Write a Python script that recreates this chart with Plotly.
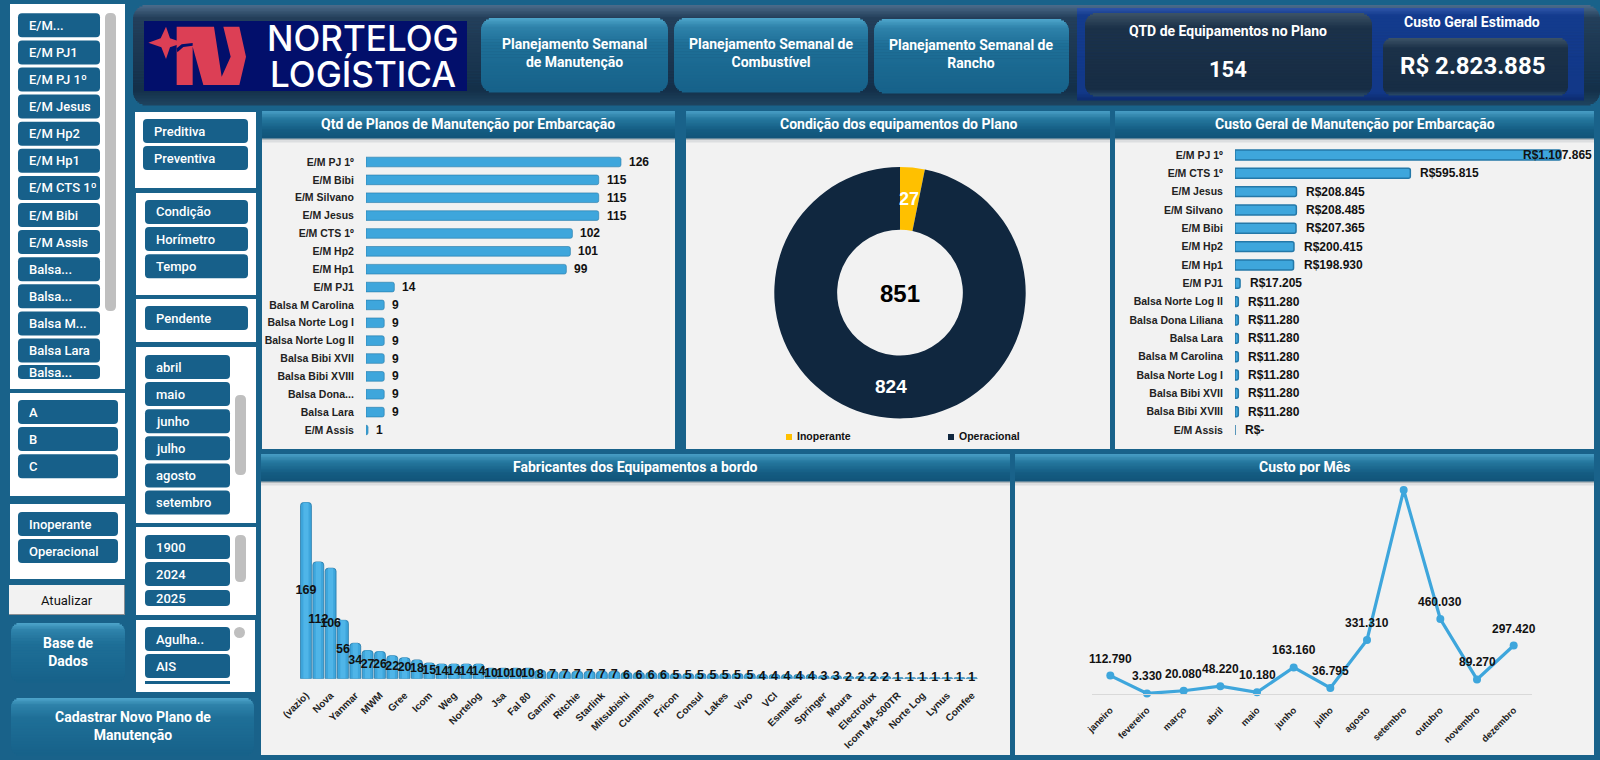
import math
import plotly.graph_objects as go

# ---- dados dos graficos ----
planos_cat = ["E/M PJ 1º", "E/M Bibi", "E/M Silvano", "E/M Jesus", "E/M CTS 1º", "E/M Hp2", "E/M Hp1", "E/M PJ1",
              "Balsa M Carolina", "Balsa Norte Log I", "Balsa Norte Log II", "Balsa Bibi XVII", "Balsa Bibi XVIII",
              "Balsa Dona...", "Balsa Lara", "E/M Assis"]
planos_val = [126, 115, 115, 115, 102, 101, 99, 14, 9, 9, 9, 9, 9, 9, 9, 1]

custo_cat = ["E/M PJ 1º", "E/M CTS 1º", "E/M Jesus", "E/M Silvano", "E/M Bibi", "E/M Hp2", "E/M Hp1", "E/M PJ1",
             "Balsa Norte Log II", "Balsa Dona Liliana", "Balsa Lara", "Balsa M Carolina", "Balsa Norte Log I",
             "Balsa Bibi XVII", "Balsa Bibi XVIII", "E/M Assis"]
custo_val = [1107865, 595815, 208845, 208485, 207365, 200415, 198930, 17205,
             11280, 11280, 11280, 11280, 11280, 11280, 11280, 0]
custo_txt = ["R$1.107.865", "R$595.815", "R$208.845", "R$208.485", "R$207.365", "R$200.415", "R$198.930", "R$17.205",
             "R$11.280", "R$11.280", "R$11.280", "R$11.280", "R$11.280", "R$11.280", "R$11.280", "R$-"]

condicao_cat = ["Inoperante", "Operacional"]
condicao_val = [27, 824]

fabricantes_val = [169, 112, 106, 56, 34, 27, 26, 22, 20, 18, 15, 14, 14, 14, 14, 10, 10, 10, 10, 8,
                   7, 7, 7, 7, 7, 7, 6, 6, 6, 6, 5, 5, 5, 5, 5, 5, 5, 4, 4, 4, 4, 4, 3, 3,
                   2, 2, 2, 2, 1, 1, 1, 1, 1, 1, 1]
fabricantes_tick = ["(vazio)", "Nova", "Yanmar", "MWM", "Gree", "Icom", "Weg", "Nortelog", "Jsa", "Fal 80", "Garmin",
                    "Ritchie", "Starlink", "Mitsubishi", "Cummins", "Fricon", "Consul", "Lakes", "Vivo", "VCI",
                    "Esmaltec", "Springer", "Moura", "Electrolux", "Icom MA-500TR", "Norte Log", "Lynus", "Comfee"]

meses = ["janeiro", "fevereiro", "março", "abril", "maio", "junho", "julho", "agosto", "setembro", "outubro",
         "novembro", "dezembro"]
mes_val = [112790, 3330, 20080, 48220, 10180, 163160, 36795, 331310, 1251300, 460030, 89270, 297420]
mes_txt = ["112.790", "3.330", "20.080", "48.220", "10.180", "163.160", "36.795", "331.310", "", "460.030",
           "89.270", "297.420"]

# segmentacoes
seg_embarcacao = ["E/M...", "E/M PJ1", "E/M PJ 1º", "E/M Jesus", "E/M Hp2", "E/M Hp1", "E/M CTS 1º", "E/M Bibi",
                  "E/M Assis", "Balsa...", "Balsa...", "Balsa M...", "Balsa Lara"]
seg_abc = ["A", "B", "C"]
seg_estado = ["Inoperante", "Operacional"]
seg_tipo = ["Preditiva", "Preventiva"]
seg_gatilho = ["Condição", "Horímetro", "Tempo"]
seg_mes = ["abril", "maio", "junho", "julho", "agosto", "setembro"]
seg_ano = ["1900", "2024"]
seg_equip = ["Agulha..", "AIS"]

W, H = 1600, 760
FUNDO = "#19628a"
BOTAO = "#17608a"
PAINEL = "#f2f2f2"
AZUL = "#3ea6dc"
AZUL_CLARO = "#4fb5e8"
AZUL_ESC = "#2478a8"
FONTE = "Roboto"
FONTE_GRAF = "Liberation Sans"

STOPS_VIDRO = [(0, "#4fa6cc"), (0.12, "#2f83ab"), (0.35, "#1f7098"), (1, "#17628a")]
STOPS_TITULO = [(0, "#4a9fc6"), (0.3, "#25789f"), (0.7, "#155d83"), (1, "#12557a")]
STOPS_HEADER = [(0, "#4d6d8c"), (0.13, "#243f5a"), (0.85, "#14304a"), (1, "#1f4560")]
STOPS_ESCURO = [(0, "#3d5468"), (0.18, "#1c3249"), (0.92, "#172d45"), (1, "#2a4a68")]
STOPS_AZUL = [(0, "#2f55a8"), (0.08, "#143c8e"), (0.92, "#123888"), (1, "#0d2c70")]
STOPS_SOMBRA = [(0, "#9aa5ab"), (1, PAINEL)]

shapes = []
annots = []


def hex2rgb(c):
    return [int(c[i:i + 2], 16) for i in (1, 3, 5)]


def cor_em(stops, t):
    for (t0, c0), (t1, c1) in zip(stops, stops[1:]):
        if t <= t1:
            f = (t - t0) / (t1 - t0)
            a, b = hex2rgb(c0), hex2rgb(c1)
            return "rgb(%d,%d,%d)" % tuple(a[i] + (b[i] - a[i]) * f for i in range(3))
    return stops[-1][1]


def px(x):
    return x / W


def py(y):
    return 1 - y / H


def rect(x0, y0, x1, y1, cor):
    shapes.append(dict(type="rect", xref="paper", yref="paper", x0=px(x0), x1=px(x1), y0=py(y1), y1=py(y0),
                       fillcolor=cor, line_width=0, layer="below"))


def caixa(x0, y0, x1, y1, r, stops):
    # caixa arredondada com degrade vertical feito em faixas
    n = max(1, int((y1 - y0) / 1.5))
    h = (y1 - y0) / n
    for i in range(n):
        ya, yb = y0 + i * h, y0 + (i + 1) * h
        d = min((ya + yb) / 2 - y0, y1 - (ya + yb) / 2)
        ins = r - math.sqrt(max(r * r - (r - d) ** 2, 0)) if d < r else 0
        rect(x0 + ins, ya, x1 - ins, yb + 0.6, cor_em(stops, (i + 0.5) / n))


def arred(x0, y0, x1, y1, r, cor):
    p = (f"M{px(x0 + r)},{py(y0)} L{px(x1 - r)},{py(y0)} Q{px(x1)},{py(y0)} {px(x1)},{py(y0 + r)} "
         f"L{px(x1)},{py(y1 - r)} Q{px(x1)},{py(y1)} {px(x1 - r)},{py(y1)} L{px(x0 + r)},{py(y1)} "
         f"Q{px(x0)},{py(y1)} {px(x0)},{py(y1 - r)} L{px(x0)},{py(y0 + r)} Q{px(x0)},{py(y0)} {px(x0 + r)},{py(y0)} Z")
    shapes.append(dict(type="path", xref="paper", yref="paper", path=p, fillcolor=cor, line_width=0, layer="below"))


def poligono(pts, cor, ox=140, oy=15, esc=3):
    p = " L".join(f"{px(ox + a / esc)},{py(oy + b / esc)}" for a, b in pts)
    shapes.append(dict(type="path", xref="paper", yref="paper", path="M" + p + " Z", fillcolor=cor, line_width=0,
                       layer="below"))


def txt(x, y, s, size=13, cor="white", peso="normal", anchor="center", fam=FONTE):
    annots.append(dict(xref="paper", yref="paper", x=px(x), y=py(y), text=s, showarrow=False, xanchor=anchor,
                       yanchor="middle", font=dict(family=fam, size=size, color=cor, weight=peso), align="center"))


def segmentador(x0, x1, itens, topo, passo=27.1, alt=24):
    for i, s in enumerate(itens):
        y = topo + i * passo
        arred(x0, y, x1, y + alt, 4, BOTAO)
        txt(x0 + 9, y + alt / 2, s, 13, peso=500, anchor="left")


def barra_rolagem(x0, x1, y0, y1):
    arred(x0, y0, x1, y1, 5, "#bfbfbf")


def titulo(x0, x1, y0, s):
    caixa(x0, y0 + 27, x1, y0 + 31, 0, STOPS_SOMBRA)
    caixa(x0, y0, x1, y0 + 27, 1, STOPS_TITULO)
    txt((x0 + x1) / 2, y0 + 13, s, 14, peso="bold")


# ---- painel lateral ----
rect(10, 4, 125, 389, "white")
segmentador(18, 100, seg_embarcacao, 13.3)
arred(18, 365, 100, 379, 4, BOTAO)
txt(27, 372, "Balsa...", 13, peso=500, anchor="left")
barra_rolagem(105, 116, 13, 311)

rect(10, 393, 125, 496, "white")
segmentador(18, 118, seg_abc, 400)
rect(10, 504, 125, 579, "white")
segmentador(18, 118, seg_estado, 512)
rect(9, 585, 125, 615, "#8a8f94")
rect(9, 585, 124, 614, PAINEL)
txt(67, 600, "Atualizar", 13, cor="#111111")
caixa(11, 623, 125, 682, 9, STOPS_VIDRO)
txt(68, 652, "Base de<br>Dados", 14, peso="bold")
caixa(11, 698, 254, 755, 9, STOPS_VIDRO)
txt(133, 726, "Cadastrar Novo Plano de<br>Manutenção", 14, peso="bold")

rect(135, 112, 256, 188, "white")
segmentador(143, 248, seg_tipo, 119)
rect(136, 193, 256, 295, "white")
segmentador(145, 248, seg_gatilho, 200)
rect(136, 299, 256, 342, "white")
segmentador(145, 248, ["Pendente"], 306)
rect(136, 347, 256, 523, "white")
segmentador(145, 230, seg_mes, 355)
barra_rolagem(235, 246, 395, 475)
rect(136, 527, 256, 615, "white")
segmentador(145, 230, seg_ano, 535)
arred(145, 590, 230, 606, 4, BOTAO)
txt(154, 598, "2025", 13, peso=500, anchor="left")
barra_rolagem(235, 246, 535, 582)
rect(136, 620, 255, 692, "white")
segmentador(145, 230, seg_equip, 627)
rect(145, 681, 230, 684, BOTAO)
shapes.append(dict(type="circle", xref="paper", yref="paper", x0=px(234), x1=px(245), y0=py(638), y1=py(627),
                   fillcolor="#bfbfbf", line_width=0, layer="below"))

# ---- cabecalho ----
caixa(133, 5, W, 105, 14, STOPS_HEADER)
rect(144, 21, 467, 91, "#020f6b")
VERMELHO = "#dc3f55"
poligono([(25, 83), (62, 70), (78, 35), (90, 70), (130, 83), (90, 97), (78, 132), (64, 97)], VERMELHO)
poligono([(110, 35), (222, 35), (245, 185), (272, 125), (250, 35), (298, 35), (318, 125), (298, 210), (190, 210),
          (158, 95), (158, 210), (110, 210)], VERMELHO)
poligono([(110, 100), (125, 88), (158, 84), (158, 92), (130, 96), (112, 112)], "#020f6b")
txt(363, 38, "NORTELOG", 35, peso=500, fam="Inter")
txt(363, 74, "LOGÍSTICA", 35, peso=500, fam="Inter")

caixa(481, 18, 668, 92, 12, STOPS_VIDRO)
txt(574, 53, "Planejamento Semanal<br>de Manutenção", 14, peso="bold")
caixa(674, 18, 868, 92, 12, STOPS_VIDRO)
txt(771, 53, "Planejamento Semanal de<br>Combustível", 14, peso="bold")
caixa(874, 19, 1069, 93, 12, STOPS_VIDRO)
txt(971, 54, "Planejamento Semanal de<br>Rancho", 14, peso="bold")

caixa(1077, 8, 1584, 100, 1, STOPS_AZUL)
caixa(1085, 13, 1372, 96, 12, STOPS_ESCURO)
caixa(1383, 38, 1568, 95, 9, STOPS_ESCURO)
txt(1228, 31, "QTD de Equipamentos no Plano", 14, peso="bold")
txt(1228, 70, "154", 22, peso="bold")
txt(1472, 22, "Custo Geral Estimado", 14, peso="bold")
txt(1472, 66, "R$ 2.823.885", 24, peso="bold")

# ---- paineis dos graficos ----
rect(262, 138, 675, 449, PAINEL)
rect(686, 138, 1110, 449, PAINEL)
rect(1115, 138, 1594, 449, PAINEL)
rect(261, 482, 1010, 755, PAINEL)
rect(1015, 482, 1594, 755, PAINEL)
titulo(262, 675, 111, "Qtd de Planos de Manutenção por Embarcação")
titulo(686, 1110, 111, "Condição dos equipamentos do Plano")
titulo(1115, 1594, 111, "Custo Geral de Manutenção por Embarcação")
titulo(261, 1010, 454, "Fabricantes dos Equipamentos a bordo")
titulo(1015, 1594, 454, "Custo por Mês")

fig = go.Figure()

# Qtd de planos
fig.add_trace(go.Bar(y=planos_cat, x=planos_val, orientation="h", width=0.54, xaxis="x", yaxis="y",
                     marker=dict(color=AZUL, cornerradius=2, line=dict(color=AZUL_ESC, width=0.6)), hoverinfo="x+y"))
for c, v in zip(planos_cat, planos_val):
    annots.append(dict(xref="x", yref="y", x=v, y=c, text=str(v), showarrow=False, xanchor="left", xshift=6,
                       font=dict(family=FONTE_GRAF, size=12, color="#111111", weight="bold")))

# Custo por embarcacao
fig.add_trace(go.Bar(y=custo_cat, x=custo_val, orientation="h", width=0.54, xaxis="x2", yaxis="y2",
                     marker=dict(color=AZUL, cornerradius=2, line=dict(color=AZUL_ESC, width=1.5)), hoverinfo="x+y"))
for i, (c, v, s) in enumerate(zip(custo_cat, custo_val, custo_txt)):
    annots.append(dict(xref="x2", yref="y2", x=v, y=c, text=s, showarrow=False, xanchor="left",
                       xshift=-40 if i == 0 else 8,
                       font=dict(family=FONTE_GRAF, size=12, color="#111111", weight="bold")))

# Condicao
ROSCA_X, ROSCA_Y, ROSCA_R = 900, 292.7, 125.7
fig.add_trace(go.Pie(labels=condicao_cat, values=condicao_val, hole=0.5, sort=False, direction="clockwise",
                     rotation=0, domain=dict(x=[px(ROSCA_X - ROSCA_R), px(ROSCA_X + ROSCA_R)],
                                             y=[py(ROSCA_Y + ROSCA_R), py(ROSCA_Y - ROSCA_R)]),
                     marker=dict(colors=["#ffc000", "#10273f"], line=dict(width=0)),
                     textinfo="none", showlegend=False))
total = sum(condicao_val)
acum = 0
for v, tam in zip(condicao_val, [18, 19]):
    ang = 2 * math.pi * (acum + v / 2) / total
    acum += v
    txt(ROSCA_X + 0.75 * ROSCA_R * math.sin(ang), ROSCA_Y - 0.75 * ROSCA_R * math.cos(ang), str(v), tam,
        peso="bold", fam=FONTE_GRAF)
txt(ROSCA_X, 293, str(total), 24, cor="black", peso="bold", fam=FONTE_GRAF)
rect(786, 434, 792, 440, "#ffc000")
txt(795, 436, "Inoperante", 10.5, cor="#111111", peso="bold", anchor="left", fam=FONTE_GRAF)
rect(948, 434, 954, 440, "#10273f")
txt(957, 436, "Operacional", 10.5, cor="#111111", peso="bold", anchor="left", fam=FONTE_GRAF)

# Fabricantes
idx = list(range(len(fabricantes_val)))
fig.add_trace(go.Bar(x=idx, y=fabricantes_val, width=0.88, xaxis="x3", yaxis="y3",
                     marker=dict(color=AZUL, cornerradius=3, line=dict(color=AZUL_ESC, width=0.8)), hoverinfo="y"))
fig.add_trace(go.Bar(x=idx, y=fabricantes_val, width=0.42, xaxis="x3", yaxis="y3",
                     marker=dict(color=AZUL_CLARO, line=dict(width=0)), hoverinfo="skip"))
fig.add_trace(go.Scatter(x=idx, y=[v / 2 for v in fabricantes_val], mode="text", text=fabricantes_val,
                         textposition="middle center", xaxis="x3", yaxis="y3", hoverinfo="skip", cliponaxis=False,
                         textfont=dict(family=FONTE_GRAF, size=12.5, color="#111111", weight="bold")))

# Custo por mes
fig.add_trace(go.Scatter(x=meses, y=mes_val, mode="lines+markers", xaxis="x4", yaxis="y4", cliponaxis=False,
                         line=dict(color=AZUL, width=3.2), marker=dict(color=AZUL, size=8), hoverinfo="x+y"))
for m, v, s in zip(meses, mes_val, mes_txt):
    if s:
        annots.append(dict(xref="x4", yref="y4", x=m, y=v, text=s, showarrow=False, yshift=17,
                           font=dict(family=FONTE_GRAF, size=12, color="#111111", weight="bold")))

cat_font = dict(family=FONTE_GRAF, size=10.5, color="#222222", weight="bold")
sem_marca = dict(ticks="outside", ticklen=9, tickcolor="rgba(0,0,0,0)", showgrid=False, zeroline=False, showline=False,
                 automargin=False)

fig.update_layout(
    width=W, height=H, autosize=False, margin=dict(l=0, r=0, t=0, b=0, pad=0), showlegend=False, barmode="overlay",
    paper_bgcolor=FUNDO, plot_bgcolor="rgba(0,0,0,0)", font=dict(family=FONTE),
    shapes=shapes, annotations=annots,
    xaxis=dict(domain=[px(366), px(640)], range=[0, 135.4], visible=False),
    yaxis=dict(domain=[py(439), py(153)], type="category", autorange="reversed", tickfont=cat_font, anchor="x", **sem_marca),
    xaxis2=dict(domain=[px(1235), px(1585)], range=[0, 1189400], visible=False),
    yaxis2=dict(domain=[py(439.2), py(145.8)], type="category", autorange="reversed", tickfont=cat_font, anchor="x2", **sem_marca),
    xaxis3=dict(domain=[px(299.8), px(978)], range=[-0.5, 54.5], anchor="y3", tickmode="array", tickvals=idx[::2],
                ticktext=fabricantes_tick, tickangle=-45, ticks="outside", ticklen=6, tickcolor="rgba(0,0,0,0)",
                automargin=False, showgrid=False, zeroline=False, showline=False,
                tickfont=dict(family=FONTE_GRAF, size=10, color="#222222", weight="bold")),
    yaxis3=dict(domain=[py(678.7), py(490)], range=[0, 181], anchor="x3", visible=False),
    xaxis4=dict(domain=[px(1092), px(1532)], type="category", range=[-0.5, 11.5], anchor="y4", tickangle=-45,
                ticks="outside", ticklen=6, tickcolor="rgba(0,0,0,0)", showgrid=False, zeroline=False, showline=True,
                automargin=False, linecolor="#d9d9d9", linewidth=1,
                tickfont=dict(family=FONTE_GRAF, size=9.5, color="#222222", weight="bold")),
    yaxis4=dict(domain=[py(694), py(480)], range=[0, 1313000], anchor="x4", visible=False),
)

fig.write_html("out.html", config={"displayModeBar": False},
               post_script="document.body.style.margin='0';document.body.style.overflow='hidden';")
